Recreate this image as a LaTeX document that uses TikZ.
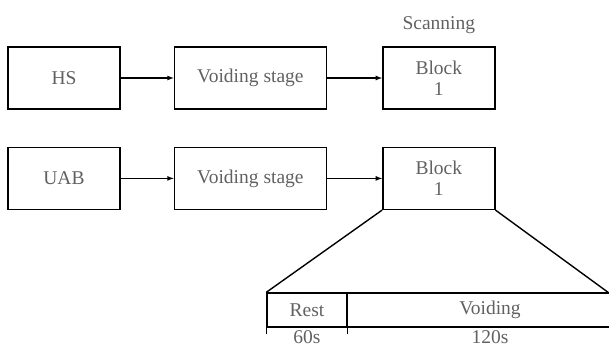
\documentclass[tikz,border=0pt]{standalone}
\usepackage{fontspec}
\setmainfont{Liberation Serif}
\usepackage{tikz}
\usetikzlibrary{positioning,arrows}

\begin{document}
\begin{tikzpicture}[x=1pt, y=-1pt, line width=1.4pt,
		txt/.style={text=black!62, font=\fontsize{19.5}{21}\selectfont},
		stage/.style={txt, draw=black, minimum height=62pt, inner sep=0pt, align=center},
		cell/.style={txt, draw=black, minimum height=34pt, inner sep=0pt},
		flow/.style={->, >=latex, line width=1.2pt}]

		\useasboundingbox (0,0) rectangle (609,349);

		% first row
		\node[stage, minimum width=112pt] (hs) at (64,78) {HS};
		\node[stage, minimum width=152pt, right=53pt of hs] (voidA) {Voiding stage};
		\node[stage, minimum width=112pt, right=55pt of voidA] (blockA) {Block\\1};
		\node[txt, above=9pt of blockA] (scan) {Scanning};

		% second row
		\node[stage, minimum width=112pt, below=37pt of hs] (uab) {UAB};
		\node[stage, minimum width=152pt, right=53pt of uab] (voidB) {Voiding stage};
		\node[stage, minimum width=112pt, right=55pt of voidB] (blockB) {Block\\1};

		\draw[flow] (hs) -- (voidA);
		\draw[flow] (voidA) -- (blockA);
		\draw[flow] (uab) -- (voidB);
		\draw[flow] (voidB) -- (blockB);

		% time line of one block
		\node[cell, minimum width=80pt] (rest) at (307,310) {Rest};
		\node[cell, minimum width=286pt, right=-1.4pt of rest] (voiding) {Voiding};
		\coordinate (farend) at (609,293);
		\draw (blockB.south west) -- (rest.north west);
		\draw (blockB.south east) -- (farend);

		\draw ([yshift=-6pt]rest.south west) -- ++(0,-10);
		\draw ([yshift=-6pt]rest.south east) -- ++(0,-10);
		\node[txt, below=-1pt of rest] (tA) {60s};
		\node[txt, below=-1pt of voiding] (tB) {120s};
\end{tikzpicture}
\end{document}
